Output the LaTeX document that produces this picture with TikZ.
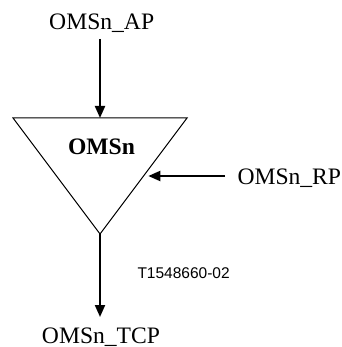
\documentclass[tikz,border=0pt]{standalone}
\usepackage{fontspec}
\setmainfont{Liberation Serif}
\newfontfamily\labsans{Liberation Sans}
\usetikzlibrary{arrows.meta}
\begin{document}
\begin{tikzpicture}[x=1pt,y=-1pt,
  lbl/.style={inner sep=0pt,font=\fontsize{23.6}{26}\selectfont},
  conn/.style={line width=2pt,-{Triangle[width=10pt,length=12pt]}},
  blk/.style={line width=1pt,line join=miter}]
\useasboundingbox (0,0) rectangle (341,347);
% triangle corners
\coordinate (tl) at (13,118);
\coordinate (tr) at (187,118);
\coordinate (apex) at (100,234);
\coordinate (ttop) at (100,118);
\coordinate (rin) at (148.3,176);
\draw[blk] (tl) -- (tr) -- (apex) -- cycle;
% texts
\node[lbl,anchor=base] (ap) at (101.7,30) {OMSn\_AP};
\node[lbl,anchor=base,font=\fontsize{23.6}{26}\selectfont\bfseries] (om) at (101.5,155) {OMSn};
\node[lbl,anchor=base west] (rp) at (237.3,184.3) {OMSn\_RP};
\node[lbl,anchor=base] (tcp) at (101,343.3) {OMSn\_TCP};
\node[inner sep=0pt,anchor=base west,font=\labsans\fontsize{15.5}{18}\selectfont] (code) at (137.3,278.3) {T1548660-02};
% connector ends
\coordinate (apend) at (100,39);
\coordinate (rpend) at (225,176);
\coordinate (tcpend) at (100,317);
\draw[conn] (apend) -- (ttop);
\draw[conn] (rpend) -- (rin);
\draw[conn] (apex) -- (tcpend);
\end{tikzpicture}
\end{document}
